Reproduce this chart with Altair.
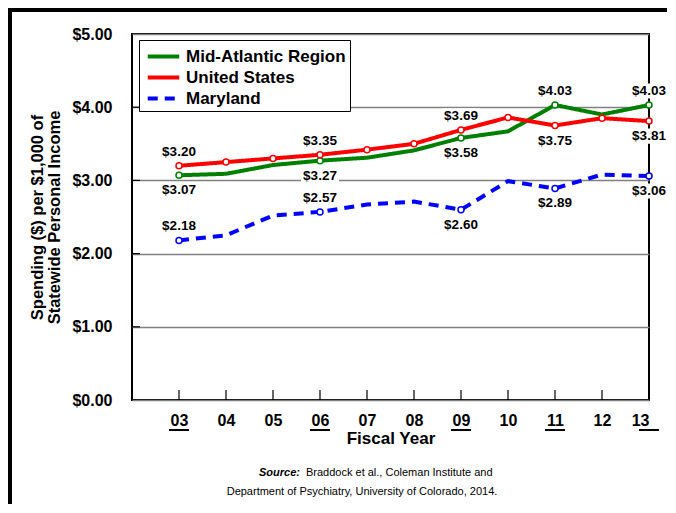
import altair as alt
import pandas as pd

# ---------------- data ----------------
years = [3, 4, 5, 6, 7, 8, 9, 10, 11, 12, 13]
mid_atlantic = [3.07, 3.09, 3.21, 3.27, 3.31, 3.41, 3.58, 3.67, 4.03, 3.90, 4.03]
united_states = [3.20, 3.25, 3.30, 3.35, 3.42, 3.50, 3.69, 3.86, 3.75, 3.85, 3.81]
maryland = [2.18, 2.25, 2.52, 2.57, 2.67, 2.71, 2.60, 2.99, 2.89, 3.08, 3.06]

series_names = ["Mid-Atlantic Region", "United States", "Maryland"]
series_colors = ["#008000", "#FF0000", "#0000FF"]
series_dash = [[1, 0], [1, 0], [10, 7]]

label_years = [3, 6, 9, 11, 13]
mid_label_side = ["below", "below", "below", "above", "above"]
us_label_side = ["above", "above", "above", "below", "below"]
md_label_side = ["above", "above", "below", "below", "below"]
us_marker_years = years
mid_marker_years = label_years
md_marker_years = label_years

x_tick_values = [3, 4, 5, 6, 7, 8, 9, 10, 11, 12, 13]
x_inner_ticks = [3, 4, 5, 6, 7, 8, 9, 10, 11, 12]
underlined_years = [3, 6, 9, 11, 13]
y_tick_values = [0, 1, 2, 3, 4, 5]
y_inner_ticks = [1, 2, 3, 4]

x_title = "Fiscal Year"
y_title = ["Spending ($) per $1,000 of", "Statewide Personal Income"]
source_label = "Source:"
source_line1 = "Braddock et al., Coleman Institute and"
source_line2 = "Department of Psychiatry, University of Colorado, 2014."

# ---------------- table ----------------
rows = []
for name, vals, sides, markers in [
    (series_names[0], mid_atlantic, mid_label_side, mid_marker_years),
    (series_names[1], united_states, us_label_side, us_marker_years),
    (series_names[2], maryland, md_label_side, md_marker_years),
]:
    side_map = dict(zip(label_years, sides))
    for yr, v in zip(years, vals):
        rows.append({
            "series": name,
            "year": yr,
            "value": v,
            "marker": yr in markers,
            "side": side_map.get(yr, ""),
        })
df = pd.DataFrame(rows)

W, H = 517, 366
FONT = "Liberation Sans"

xscale = alt.Scale(domain=[2, 13], nice=False, zero=False)
yscale = alt.Scale(domain=[0, 5], nice=False)

x_enc = alt.X("year:Q", scale=xscale, axis=alt.Axis(
    values=x_tick_values, title=x_title, grid=False, ticks=False, tickSize=0,
    domain=False, labelExpr="datum.value < 10 ? '0' + datum.value : '' + datum.value",
    labelFont=FONT, labelFontSize=16, labelFontWeight="bold", labelColor="black",
    labelPadding=12, titleFont=FONT, titleFontSize=17, titleFontWeight="bold",
    titleColor="black", titlePadding=2))
y_enc = alt.Y("value:Q", scale=yscale, axis=alt.Axis(
    values=y_tick_values, title=y_title, format="$.2f", grid=True,
    gridColor="#808080", gridWidth=1.5, ticks=False, tickSize=0, domain=False,
    labelFont=FONT, labelFontSize=16, labelFontWeight="bold", labelColor="black",
    labelPadding=20, titleFont=FONT, titleFontSize=16.5, titleFontWeight="bold",
    titleColor="black", titlePadding=9, titleLineHeight=17))

base = alt.Chart(df)

box_shape = "M-1,-0.4H1V0.4H-1Z"
bg_above = base.transform_filter("datum.side == 'above'").mark_point(
    shape=box_shape, size=1444, filled=True, color="white", opacity=1, yOffset=-14
).encode(x=x_enc, y=y_enc)
bg_below = base.transform_filter("datum.side == 'below'").mark_point(
    shape=box_shape, size=1444, filled=True, color="white", opacity=1, yOffset=15
).encode(x=x_enc, y=y_enc)

lines = base.mark_line(strokeWidth=4).encode(
    x=x_enc, y=y_enc,
    color=alt.Color("series:N", scale=alt.Scale(domain=series_names, range=series_colors),
                    legend=alt.Legend(
                        orient="none", legendX=7, legendY=6, title=None,
                        symbolType="M-1.5,0H1.5", symbolSize=441, symbolStrokeWidth=4,
                        symbolOffset=8,
                        labelFont=FONT, labelFontSize=17, labelFontWeight="bold",
                        labelColor="black", padding=4, rowPadding=0, labelOffset=10,
                        fillColor="white", strokeColor="black", labelLimit=300)),
    strokeDash=alt.StrokeDash("series:N", scale=alt.Scale(domain=series_names, range=series_dash),
                              legend=alt.Legend(orient="none", legendX=7, legendY=6, title=None)),
    order=alt.Order("year:Q"),
)

points = base.transform_filter("datum.marker").mark_point(
    filled=False, fill="white", fillOpacity=1, opacity=1, size=36, strokeWidth=1.5
).encode(
    x=x_enc, y=y_enc,
    stroke=alt.Stroke("series:N", scale=alt.Scale(domain=series_names, range=series_colors),
                      legend=None),
)

text_above = base.transform_filter("datum.side == 'above'").mark_text(
    dy=-14, font=FONT, fontSize=13.5, fontWeight="bold", color="black", baseline="middle"
).encode(x=x_enc, y=y_enc, text=alt.Text("value:Q", format="$.2f"))
text_below = base.transform_filter("datum.side == 'below'").mark_text(
    dy=15, font=FONT, fontSize=13.5, fontWeight="bold", color="black", baseline="middle"
).encode(x=x_enc, y=y_enc, text=alt.Text("value:Q", format="$.2f"))

xticks = alt.Chart(pd.DataFrame({"year": x_inner_ticks})).mark_rule(
    color="black", strokeWidth=1.2
).encode(x=alt.X("year:Q", scale=xscale), y=alt.value(H), y2=alt.value(H - 10))

yticks = alt.Chart(pd.DataFrame({"value": y_inner_ticks})).mark_rule(
    color="black", strokeWidth=1.2
).encode(y=alt.Y("value:Q", scale=yscale), x=alt.value(0), x2=alt.value(8))

underline = alt.Chart(pd.DataFrame({"year": underlined_years})).mark_rule(
    color="black", strokeWidth=2, xOffset=-10, x2Offset=10
).encode(x=alt.X("year:Q", scale=xscale), x2="year:Q", y=alt.value(H + 30))

one = alt.Chart(pd.DataFrame({"a": [0]}))
frame_top = one.mark_rule(color="black", strokeWidth=4).encode(
    x=alt.value(-124), x2=alt.value(W + 19), y=alt.value(-24))
frame_left = one.mark_rule(color="black", strokeWidth=4).encode(
    x=alt.value(-122), y=alt.value(-26), y2=alt.value(H + 104))

src_a = one.mark_text(font=FONT, fontSize=11, fontWeight="bold", fontStyle="italic",
                      align="right", baseline="middle", color="black").encode(
    x=alt.value(168), y=alt.value(439), text=alt.value(source_label))
src_b = one.mark_text(font=FONT, fontSize=11, align="left", baseline="middle",
                      color="black").encode(
    x=alt.value(174), y=alt.value(439), text=alt.value(source_line1))
src_c = one.mark_text(font=FONT, fontSize=11, align="center", baseline="middle",
                      color="black").encode(
    x=alt.value(230), y=alt.value(458), text=alt.value(source_line2))

chart = alt.layer(
    bg_above, bg_below, lines, points, text_above, text_below,
    xticks, yticks, underline, frame_top, frame_left, src_a, src_b, src_c
).resolve_scale(stroke="independent").properties(
    width=W, height=H,
    autosize=alt.AutoSizeParams(type="none"),
    padding={"left": 124, "top": 26, "right": 18, "bottom": 104},
).configure_view(stroke="black", strokeWidth=2)

chart.save("out.html", embed_options={"renderer": "svg", "actions": False})
